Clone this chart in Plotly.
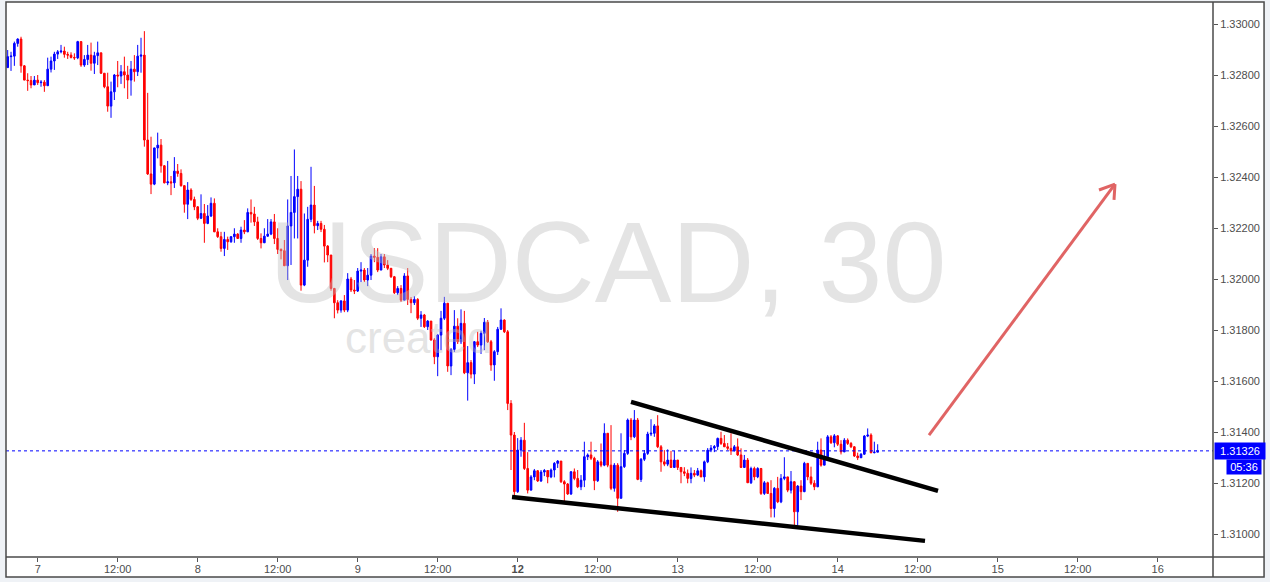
import plotly.graph_objects as go

# ---------------- data (USDCAD, 30 min bars) ----------------
first_open = 1.32829
closes = [
    1.32872, 1.32874, 1.32924, 1.32941, 1.32836, 1.32780, 1.32778, 1.32761, 1.32780, 1.32770,
    1.32772, 1.32758, 1.32823, 1.32855, 1.32882, 1.32891, 1.32894, 1.32881, 1.32878, 1.32869,
    1.32867, 1.32931, 1.32839, 1.32861, 1.32878, 1.32846, 1.32876, 1.32887, 1.32807, 1.32754,
    1.32678, 1.32734, 1.32800, 1.32796, 1.32813, 1.32800, 1.32780, 1.32823, 1.32813, 1.32874,
    1.32878, 1.32545, 1.32412, 1.32372, 1.32514, 1.32525, 1.32444, 1.32377, 1.32381, 1.32377,
    1.32423, 1.32414, 1.32366, 1.32293, 1.32349, 1.32312, 1.32283, 1.32238, 1.32257, 1.32218,
    1.32247, 1.32297, 1.32185, 1.32166, 1.32120, 1.32155, 1.32146, 1.32166, 1.32176, 1.32159,
    1.32192, 1.32185, 1.32261, 1.32255, 1.32224, 1.32159, 1.32142, 1.32168, 1.32176, 1.32224,
    1.32159, 1.32116, 1.32111, 1.32052, 1.32208, 1.32261, 1.32323, 1.32352, 1.31976, 1.32074,
    1.32234, 1.32290, 1.32209, 1.32218, 1.32195, 1.32129, 1.32094, 1.31963, 1.31907, 1.31878,
    1.31914, 1.31878, 1.32000, 1.31957, 1.31953, 1.32031, 1.32035, 1.31996, 1.32015, 1.32090,
    1.32085, 1.32035, 1.32087, 1.32055, 1.32042, 1.32009, 1.31946, 1.31963, 1.31917, 1.32012,
    1.31920, 1.31907, 1.31920, 1.31846, 1.31859, 1.31813, 1.31835, 1.31761, 1.31695, 1.31780,
    1.31846, 1.31905, 1.31659, 1.31724, 1.31815, 1.31754, 1.31826, 1.31632, 1.31672, 1.31627,
    1.31754, 1.31741, 1.31787, 1.31830, 1.31754, 1.31663, 1.31715, 1.31803, 1.31839, 1.31793,
    1.31512, 1.31388, 1.31166, 1.31329, 1.31368, 1.31257, 1.31172, 1.31224, 1.31248, 1.31208,
    1.31243, 1.31249, 1.31224, 1.31251, 1.31277, 1.31286, 1.31205, 1.31196, 1.31157, 1.31244,
    1.31218, 1.31185, 1.31211, 1.31303, 1.31310, 1.31297, 1.31209, 1.31283, 1.31270, 1.31395,
    1.31270, 1.31179, 1.31270, 1.31140, 1.31264, 1.31316, 1.31447, 1.31381, 1.31447, 1.31214,
    1.31293, 1.31316, 1.31392, 1.31395, 1.31424, 1.31342, 1.31283, 1.31274, 1.31290, 1.31261,
    1.31290, 1.31261, 1.31244, 1.31238, 1.31218, 1.31238, 1.31231, 1.31248, 1.31224, 1.31283,
    1.31329, 1.31337, 1.31343, 1.31375, 1.31355, 1.31342, 1.31336, 1.31326, 1.31342, 1.31310,
    1.31261, 1.31290, 1.31201, 1.31257, 1.31224, 1.31257, 1.31159, 1.31201, 1.31159, 1.31100,
    1.31179, 1.31126, 1.31218, 1.31224, 1.31172, 1.31205, 1.31087, 1.31188, 1.31166, 1.31277,
    1.31224, 1.31199, 1.31185, 1.31329, 1.31270, 1.31303, 1.31381, 1.31358, 1.31385, 1.31352,
    1.31322, 1.31368, 1.31355, 1.31342, 1.31306, 1.31299, 1.31313, 1.31384, 1.31388, 1.31319,
    1.31321, 1.31326,
]
highs = [
    1.32898, 1.32891, 1.32931, 1.32944, 1.32950, 1.32839, 1.32807, 1.32796, 1.32796, 1.32800,
    1.32780, 1.32780, 1.32868, 1.32872, 1.32891, 1.32898, 1.32918, 1.32911, 1.32891, 1.32889,
    1.32885, 1.32934, 1.32931, 1.32878, 1.32918, 1.32927, 1.32891, 1.32931, 1.32887, 1.32807,
    1.32809, 1.32774, 1.32804, 1.32855, 1.32839, 1.32872, 1.32836, 1.32855, 1.32878, 1.32918,
    1.32946, 1.32972, 1.32730, 1.32558, 1.32515, 1.32574, 1.32549, 1.32447, 1.32463, 1.32404,
    1.32478, 1.32451, 1.32430, 1.32368, 1.32380, 1.32356, 1.32323, 1.32286, 1.32332, 1.32294,
    1.32290, 1.32320, 1.32316, 1.32199, 1.32185, 1.32185, 1.32166, 1.32168, 1.32199, 1.32180,
    1.32205, 1.32231, 1.32277, 1.32312, 1.32283, 1.32244, 1.32179, 1.32199, 1.32235, 1.32235,
    1.32255, 1.32199, 1.32120, 1.32153, 1.32312, 1.32404, 1.32508, 1.32404, 1.32384, 1.32257,
    1.32283, 1.32440, 1.32365, 1.32228, 1.32228, 1.32212, 1.32133, 1.32094, 1.31965, 1.31917,
    1.31917, 1.31937, 1.32023, 1.32008, 1.31996, 1.32043, 1.32066, 1.32043, 1.32043, 1.32098,
    1.32121, 1.32121, 1.32098, 1.32098, 1.32074, 1.32043, 1.32012, 1.31972, 1.31976, 1.32023,
    1.32043, 1.31929, 1.31933, 1.31925, 1.31874, 1.31863, 1.31839, 1.31835, 1.31768, 1.31784,
    1.31875, 1.31930, 1.31906, 1.31729, 1.31878, 1.31846, 1.31881, 1.31875, 1.31737, 1.31682,
    1.31757, 1.31793, 1.31797, 1.31847, 1.31839, 1.31761, 1.31721, 1.31812, 1.31885, 1.31842,
    1.31800, 1.31525, 1.31400, 1.31376, 1.31380, 1.31436, 1.31321, 1.31231, 1.31255, 1.31251,
    1.31251, 1.31255, 1.31251, 1.31257, 1.31282, 1.31290, 1.31286, 1.31211, 1.31200, 1.31247,
    1.31257, 1.31251, 1.31231, 1.31362, 1.31316, 1.31362, 1.31303, 1.31290, 1.31355, 1.31434,
    1.31396, 1.31427, 1.31278, 1.31278, 1.31395, 1.31329, 1.31453, 1.31455, 1.31486, 1.31455,
    1.31298, 1.31329, 1.31401, 1.31450, 1.31431, 1.31466, 1.31349, 1.31329, 1.31332, 1.31326,
    1.31326, 1.31290, 1.31262, 1.31262, 1.31253, 1.31261, 1.31251, 1.31259, 1.31253, 1.31288,
    1.31337, 1.31349, 1.31349, 1.31378, 1.31401, 1.31388, 1.31357, 1.31395, 1.31349, 1.31375,
    1.31336, 1.31310, 1.31298, 1.31264, 1.31264, 1.31262, 1.31259, 1.31208, 1.31205, 1.31211,
    1.31184, 1.31224, 1.31235, 1.31301, 1.31224, 1.31247, 1.31208, 1.31192, 1.31211, 1.31283,
    1.31278, 1.31264, 1.31211, 1.31362, 1.31375, 1.31329, 1.31388, 1.31388, 1.31392, 1.31388,
    1.31368, 1.31376, 1.31375, 1.31361, 1.31345, 1.31319, 1.31317, 1.31388, 1.31414, 1.31395,
    1.31362, 1.31352,
]
lows = [
    1.32829, 1.32816, 1.32836, 1.32911, 1.32809, 1.32780, 1.32738, 1.32748, 1.32761, 1.32761,
    1.32754, 1.32734, 1.32758, 1.32810, 1.32820, 1.32863, 1.32885, 1.32868, 1.32863, 1.32865,
    1.32859, 1.32862, 1.32832, 1.32832, 1.32839, 1.32817, 1.32804, 1.32839, 1.32804, 1.32748,
    1.32656, 1.32632, 1.32702, 1.32752, 1.32765, 1.32748, 1.32706, 1.32719, 1.32774, 1.32796,
    1.32809, 1.32519, 1.32408, 1.32333, 1.32368, 1.32473, 1.32417, 1.32375, 1.32368, 1.32329,
    1.32357, 1.32401, 1.32362, 1.32260, 1.32235, 1.32306, 1.32270, 1.32231, 1.32235, 1.32142,
    1.32215, 1.32243, 1.32184, 1.32161, 1.32107, 1.32090, 1.32114, 1.32142, 1.32142, 1.32157,
    1.32142, 1.32176, 1.32184, 1.32221, 1.32208, 1.32153, 1.32120, 1.32141, 1.32165, 1.32172,
    1.32137, 1.32098, 1.32077, 1.32051, 1.31996, 1.32055, 1.32159, 1.32159, 1.31954, 1.31972,
    1.32048, 1.32223, 1.32179, 1.32192, 1.32184, 1.32065, 1.32066, 1.31954, 1.31846, 1.31865,
    1.31868, 1.31870, 1.31870, 1.31949, 1.31941, 1.31949, 1.31988, 1.31988, 1.31972, 1.31996,
    1.32066, 1.32027, 1.32035, 1.32043, 1.32035, 1.32004, 1.31941, 1.31937, 1.31910, 1.31917,
    1.31898, 1.31866, 1.31898, 1.31839, 1.31812, 1.31808, 1.31800, 1.31758, 1.31666, 1.31619,
    1.31721, 1.31839, 1.31636, 1.31623, 1.31714, 1.31745, 1.31745, 1.31627, 1.31523, 1.31610,
    1.31588, 1.31733, 1.31706, 1.31721, 1.31749, 1.31640, 1.31601, 1.31702, 1.31800, 1.31788,
    1.31486, 1.31251, 1.31146, 1.31161, 1.31303, 1.31251, 1.31159, 1.31172, 1.31211, 1.31204,
    1.31204, 1.31227, 1.31199, 1.31219, 1.31222, 1.31259, 1.31200, 1.31126, 1.31153, 1.31153,
    1.31211, 1.31180, 1.31172, 1.31184, 1.31290, 1.31290, 1.31172, 1.31204, 1.31262, 1.31266,
    1.31262, 1.31172, 1.31166, 1.31087, 1.31140, 1.31259, 1.31310, 1.31368, 1.31376, 1.31211,
    1.31204, 1.31286, 1.31310, 1.31384, 1.31381, 1.31337, 1.31244, 1.31266, 1.31266, 1.31259,
    1.31259, 1.31251, 1.31199, 1.31227, 1.31199, 1.31199, 1.31223, 1.31227, 1.31223, 1.31205,
    1.31278, 1.31321, 1.31321, 1.31329, 1.31349, 1.31341, 1.31329, 1.31310, 1.31325, 1.31306,
    1.31259, 1.31259, 1.31200, 1.31196, 1.31211, 1.31219, 1.31153, 1.31153, 1.31157, 1.31065,
    1.31065, 1.31121, 1.31121, 1.31211, 1.31164, 1.31159, 1.31028, 1.31035, 1.31133, 1.31164,
    1.31211, 1.31192, 1.31172, 1.31184, 1.31264, 1.31270, 1.31298, 1.31353, 1.31340, 1.31345,
    1.31312, 1.31321, 1.31349, 1.31337, 1.31302, 1.31290, 1.31298, 1.31310, 1.31380, 1.31316,
    1.31316, 1.31321,
]
opens = [first_open] + closes[:-1]
bar_index = list(range(len(closes)))

tick_bars = [9, 33, 57, 81, 105, 129, 153, 177, 201, 225, 249, 273, 297, 321, 345]
tick_labels = ["7", "12:00", "8", "12:00", "9", "12:00", "<b>12</b>", "12:00",
               "13", "12:00", "14", "12:00", "15", "12:00", "16"]
price_ticks = [1.31000, 1.31200, 1.31400, 1.31600, 1.31800, 1.32000,
               1.32200, 1.32400, 1.32600, 1.32800, 1.33000]
last_price = 1.31326
countdown = "05:36"
watermark_title = "USDCAD, 30"
watermark_sub = "created"

# drawings (bar index, price)
upper_trend_bars = [187.0, 279.1]
upper_trend_prices = [1.31518, 1.31169]
lower_trend_bars = [151.3, 275.2]
lower_trend_prices = [1.31145, 1.30973]
arrow_bars = [276.4, 332.2]
arrow_prices = [1.31388, 1.32372]
arrow_head_bars = [327.4, 331.9]
arrow_head_prices = [1.32349, 1.32310]

UP = "#0000ff"
DOWN = "#ff0000"
FRAME = "#4a4a4a"

fig = go.Figure()
fig.add_trace(go.Candlestick(
    x=bar_index, open=opens, high=highs, low=lows, close=closes,
    increasing=dict(line=dict(color=UP, width=1), fillcolor=UP),
    decreasing=dict(line=dict(color=DOWN, width=1), fillcolor=DOWN),
    whiskerwidth=0, hoverinfo="skip", showlegend=False,
))

shapes = []
# white chart frame background (including axis strips)
shapes.append(dict(type="rect", xref="paper", yref="paper", x0=0, x1=1.0423, y0=-0.036, y1=1,
                   fillcolor="white", line=dict(width=0), layer="below"))
# last price dotted line
shapes.append(dict(type="line", xref="paper", yref="y", x0=0, x1=1, y0=last_price, y1=last_price,
                   line=dict(color=UP, width=1, dash="dot")))
# trend lines
shapes.append(dict(type="line", xref="x", yref="y",
                   x0=upper_trend_bars[0], x1=upper_trend_bars[1],
                   y0=upper_trend_prices[0], y1=upper_trend_prices[1],
                   line=dict(color="black", width=4.5)))
shapes.append(dict(type="line", xref="x", yref="y",
                   x0=lower_trend_bars[0], x1=lower_trend_bars[1],
                   y0=lower_trend_prices[0], y1=lower_trend_prices[1],
                   line=dict(color="black", width=4.5)))
# arrow
ARROW = "#e06464"
shapes.append(dict(type="line", xref="x", yref="y", x0=arrow_bars[0], x1=arrow_bars[1],
                   y0=arrow_prices[0], y1=arrow_prices[1], line=dict(color=ARROW, width=3)))
for hb, hp in zip(arrow_head_bars, arrow_head_prices):
    shapes.append(dict(type="line", xref="x", yref="y", x0=hb, x1=arrow_bars[1],
                       y0=hp, y1=arrow_prices[1], line=dict(color=ARROW, width=3)))
# frame lines
shapes.append(dict(type="rect", xref="paper", yref="paper", x0=0, x1=1.0423, y0=-0.036, y1=1,
                   line=dict(color=FRAME, width=1.5), fillcolor="rgba(0,0,0,0)"))
shapes.append(dict(type="line", xref="paper", yref="paper", x0=1, x1=1, y0=-0.036, y1=1,
                   line=dict(color=FRAME, width=1.5)))
shapes.append(dict(type="line", xref="paper", yref="paper", x0=0, x1=1.0423, y0=0, y1=0,
                   line=dict(color=FRAME, width=1.5)))

annotations = [
    dict(text=watermark_title, xref="paper", yref="paper", x=0.498, y=0.5315,
         xanchor="center", yanchor="middle", showarrow=False,
         font=dict(family="Liberation Sans Narrow, Arial Narrow, Liberation Sans, Arial", size=115,
                   color="rgba(190,190,190,0.42)")),
    dict(text=watermark_sub, xref="paper", yref="paper", x=0.2792, y=0.396,
         xanchor="left", yanchor="middle", showarrow=False,
         font=dict(family="Liberation Sans, Arial", size=44, color="rgba(190,190,190,0.42)")),
    dict(text="%.5f" % last_price, xref="paper", yref="y", x=1.0, y=last_price,
         xanchor="left", yanchor="middle", showarrow=False, xshift=1,
         bgcolor=UP, width=48, height=14, borderpad=1,
         font=dict(family="Liberation Sans, Arial", size=11, color="white")),
    dict(text=countdown, xref="paper", yref="y", x=1.0406, y=last_price,
         xanchor="right", yanchor="middle", showarrow=False, yshift=-16.5,
         bgcolor=UP, width=32, height=12, borderpad=1,
         font=dict(family="Liberation Sans, Arial", size=11, color="white")),
]

fig.update_layout(
    width=1270, height=582,
    margin=dict(l=6, r=57, t=2, b=25),
    paper_bgcolor="#eff2f6",
    plot_bgcolor="white",
    showlegend=False,
    font=dict(family="Liberation Sans, Arial, sans-serif", size=11, color="#4d4d4d"),
    xaxis=dict(range=[-0.51, 361.6], tickmode="array", tickvals=tick_bars, ticktext=tick_labels,
               ticks="outside", ticklen=4, tickcolor="#555555", showgrid=False, zeroline=False,
               showline=False, rangeslider=dict(visible=False), fixedrange=True,
               ticklabelstandoff=-2),
    yaxis=dict(side="right", range=[1.309098, 1.330863], tickmode="array", tickvals=price_ticks,
               tickformat=".5f", ticks="outside", ticklen=4, tickcolor="#555555",
               showgrid=False, zeroline=False, showline=False, fixedrange=True),
    shapes=shapes,
    annotations=annotations,
)

fig.write_html("out.html", config={"displayModeBar": False},
               post_script="document.body.style.margin='0';")
